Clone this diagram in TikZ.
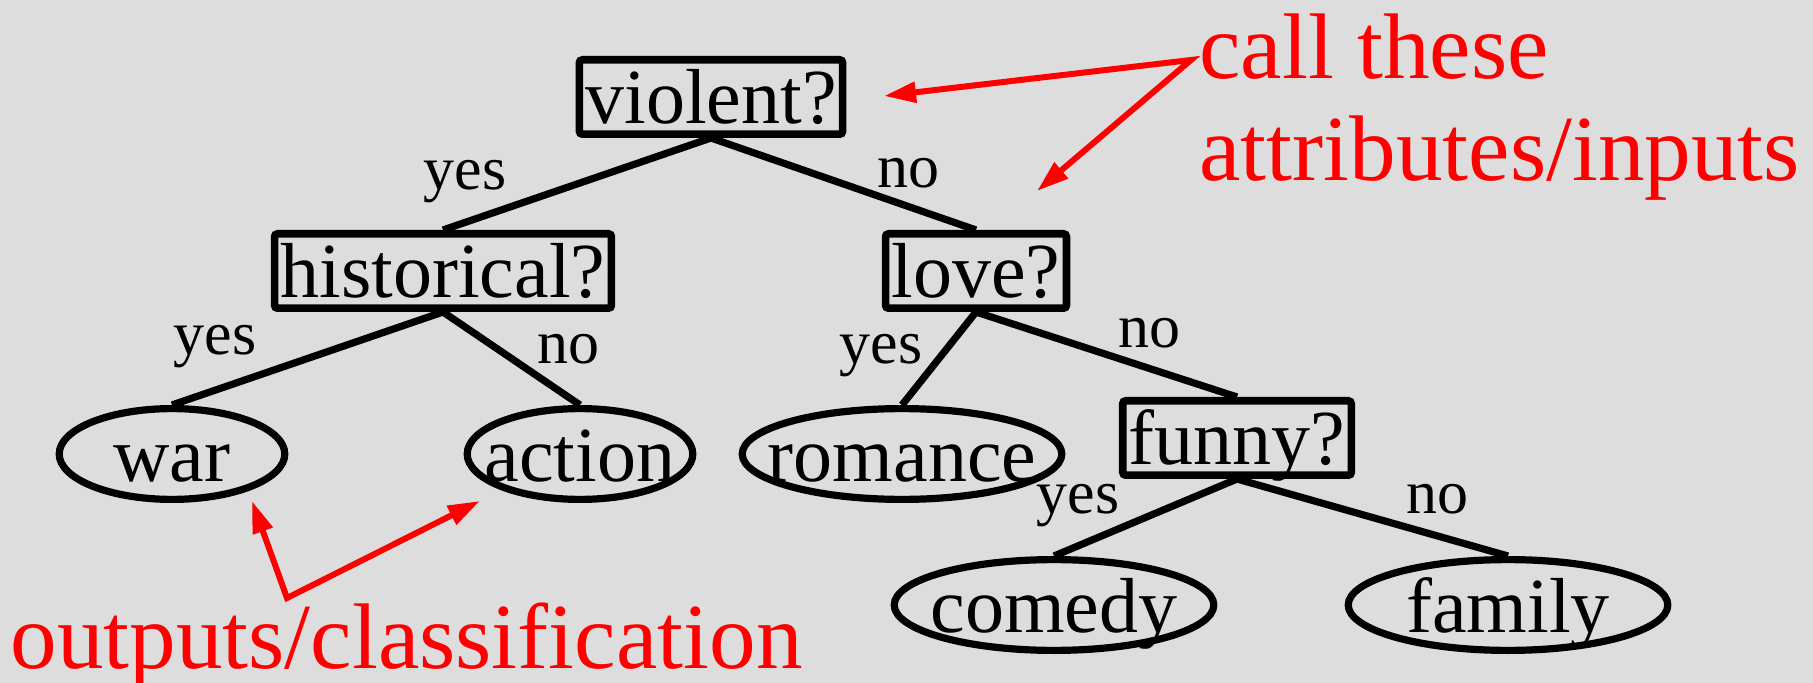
\documentclass[tikz,border=0pt]{standalone}
\usepackage{fontspec}
\setmainfont{Liberation Serif}
\usetikzlibrary{shapes,positioning,arrows.meta}
\definecolor{bggray}{RGB}{221,221,221}
\tikzset{
  question/.style={draw, rectangle, line width=3.8pt, rounded corners=1.5pt,
    minimum height=37.2pt, inner xsep=3pt, inner ysep=0pt,
    text height=27pt, text depth=0pt, font=\fontsize{39}{47}\selectfont},
  answer/.style={draw, ellipse, line width=3.6pt, minimum width=112.8pt,
    minimum height=45.4pt, inner sep=0pt,
    label={[text height=27pt, text depth=0pt, inner sep=0pt,
      font=\fontsize{39}{47}\selectfont]center:#1}},
  wide/.style={minimum width=159.8pt},
  branch/.style={line width=3.6pt},
  lbl/.style={font=\fontsize{31}{37}\selectfont, inner sep=0pt},
  note/.style={text=red, font=\fontsize{46.6}{56}\selectfont, inner sep=0pt, anchor=base west},
  pointer/.style={red, line width=3pt, line join=miter,
    {Triangle[length=16pt,width=10pt]}-{Triangle[length=16pt,width=10pt]}},
}
\begin{document}
\begin{tikzpicture}[x=0.5pt, y=-0.5pt]
        \useasboundingbox (0,0) rectangle (1813,683);
        \fill[bggray] (0,0) rectangle (1813,683);

        % decision nodes
        \node[question] (violent) at (711,97) {violent?};
        \node[question] (historical) at (443,271) {historical?};
        \node[question] (love) at (976,271) {love?};
        \node[question] (funny) at (1237,438) {funny?};

        % leaves
        \node[answer=war] (war) at (172,454) {};
        \node[answer=action] (action) at (580,454) {};
        \node[answer=romance, wide] (romance) at (902,454) {};
        \node[answer=comedy, wide] (comedy) at (1054,605) {};
        \node[answer=family, wide] (family) at (1508,605) {};

        % branches
        \draw[branch] (violent.south) -- (historical.north);
        \draw[branch] (violent.south) -- (love.north);
        \draw[branch] (historical.south) -- (war.north);
        \draw[branch] (historical.south) -- (action.north);
        \draw[branch] (love.south) -- (romance.north);
        \draw[branch] (love.south) -- (funny.north);
        \draw[branch] (funny.south) -- (comedy.north);
        \draw[branch] (funny.south) -- (family.north);

        \node[lbl] (yesViolent) at (465,182) {yes};
        \node[lbl] (noViolent) at (908,173) {no};
        \node[lbl] (yesHist) at (215,347) {yes};
        \node[lbl] (noHist) at (568,349) {no};
        \node[lbl] (yesLove) at (881,356) {yes};
        \node[lbl] (noLove) at (1149,333) {no};
        \node[lbl] (yesFunny) at (1078,506) {yes};
        \node[lbl] (noFunny) at (1437,499) {no};

        % annotations
        \node[note] (callThese) at (1199,79) {call these};
        \node[note] (attrInputs) at (1199,181) {attributes/inputs};
        \node[note] (outputs) at (10,668) {outputs/classification};

        \coordinate (hubIn) at (1191,60);
        \coordinate (tipViolent) at (884,96);
        \coordinate (tipLove) at (1037,191);
        \coordinate (hubOut) at (287,598);
        \coordinate (tipWar) at (252,501);
        \coordinate (tipAction) at (480,501);

        \draw[pointer] (tipViolent) -- (hubIn) -- (tipLove);
        \draw[pointer] (tipWar) -- (hubOut) -- (tipAction);
    \end{tikzpicture}
\end{document}
